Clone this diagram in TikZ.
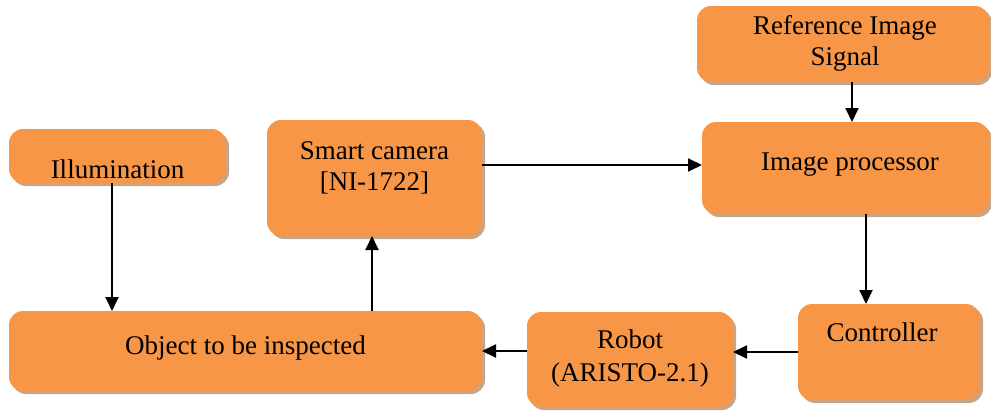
\documentclass[tikz,border=0pt]{standalone}
\usepackage{fontspec}
\newfontfamily\timesfont{Liberation Serif}
\usetikzlibrary{backgrounds,arrows.meta}
\definecolor{boxorange}{RGB}{247,150,70}
\definecolor{shadowbrown}{RGB}{200,165,135}
\tikzset{
  box/.style={rectangle, rounded corners=14pt, fill=boxorange, draw=none, outer sep=0pt, inner sep=0pt},
  shadowfill/.style={fill=shadowbrown, rounded corners=14pt},
  txt/.style={anchor=base, inner sep=0pt, font=\timesfont\fontsize{27}{32}\selectfont},
  arr/.style={line width=2pt, -{Triangle[length=14pt,width=13pt]}}
}
\begin{document}
\begin{tikzpicture}[x=1pt,y=-1pt]
\useasboundingbox (0,0) rectangle (991,410);
% boxes
\node[box, minimum width=217pt, minimum height=54pt] (illum) at (117.5,156) {};
\node[box, minimum width=215pt, minimum height=116pt] (cam) at (374.5,178) {};
\node[box, minimum width=292pt, minimum height=76pt] (ref) at (843,44) {};
\node[box, minimum width=287pt, minimum height=92pt] (ip) at (845.5,168) {};
\node[box, minimum width=473pt, minimum height=80pt] (obj) at (245.5,351) {};
\node[box, minimum width=206pt, minimum height=95pt] (robot) at (630,359.5) {};
\node[box, minimum width=182pt, minimum height=96pt] (ctrl) at (889,352) {};
% shadows
\begin{scope}[on background layer]
\foreach \n in {illum,cam,ref,ip,obj,robot,ctrl}
  \fill[shadowfill] ([shift={(3,3)}]\n.south west) rectangle ([shift={(3,3)}]\n.north east);
\end{scope}
% texts
\node[txt] (tillum) at (117.5,178) {Illumination};
\node[txt] (tcam1) at (374.5,159) {Smart camera};
\node[txt] (tcam2) at (374.5,190) {[NI-1722]};
\node[txt] (tref1) at (845,34) {Reference Image};
\node[txt] (tref2) at (845,65) {Signal};
\node[txt] (tip) at (850,170) {Image processor};
\node[txt] (tobj) at (245.5,354) {Object to be inspected};
\node[txt] (trob1) at (630,348) {Robot};
\node[txt] (trob2) at (630,381) {(ARISTO-2.1)};
\node[txt] (tctrl) at (882,341) {Controller};
% connectors
\coordinate (a) at ([xshift=-5.5pt]illum.south);
\draw[arr] (a) -- (a |- obj.north);
\coordinate (b) at ([xshift=-2.5pt]cam.south);
\draw[arr] (b |- obj.north) -- (b);
\coordinate (c1) at ([yshift=13pt]cam.east);
\draw[arr] (c1) -- (c1 -| ip.west);
\coordinate (c) at ([xshift=9pt]ref.south);
\draw[arr] (c) -- (c |- ip.north);
\coordinate (d) at ([xshift=20.5pt]ip.south);
\draw[arr] (d) -- (d |- ctrl.north);
\draw[arr] (ctrl.west) -- (ctrl.west -| robot.east);
\draw[arr] (obj.east -| robot.west) -- (obj.east);
\end{tikzpicture}
\end{document}
